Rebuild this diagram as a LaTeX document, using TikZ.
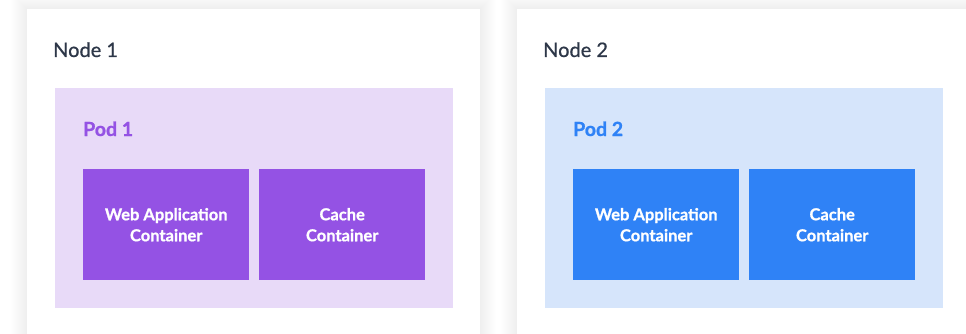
\documentclass[tikz,border=0pt]{standalone}
\usepackage{fontspec}
\setmainfont{Lato}[BoldFeatures={FakeBold=0.9}]
\newfontfamily\mediumfont{Lato}[FakeBold=0.7]

\definecolor{nodetext}{HTML}{2D3748}
\definecolor{podAbg}{HTML}{E8DAF8}
\definecolor{podAfg}{HTML}{9452E4}
\definecolor{podBbg}{HTML}{D6E5FB}
\definecolor{podBfg}{HTML}{2F82F6}

\tikzset{
  card/.style={fill=white, draw=none, rectangle, inner sep=0pt},
  podbox/.style={draw=none, rectangle, inner sep=0pt},
  ctrbox/.style={draw=none, rectangle, inner sep=0pt, text=white,
    align=center, font=\bfseries\fontsize{16.5}{21}\selectfont},
  nodelabel/.style={anchor=base west, inner sep=0pt, text=nodetext,
    font=\mediumfont\fontsize{20}{24}\selectfont},
  podlabel/.style={anchor=base west, inner sep=0pt,
    font=\bfseries\fontsize{19.5}{23}\selectfont},
}

% soft shadow round a card, built from stacked translucent frames
\newcommand\cardshadow[4]{%
  \foreach \s in {1,...,16}{
    \fill[black, opacity=0.0055] ({#1-\s},{#2-\s}) rectangle ({#3+\s},{#4+\s});
  }%
}

\begin{document}
\begin{tikzpicture}[x=1pt, y=-1pt]
  \clip (0,0) rectangle (966,334);
  \fill[white] (0,0) rectangle (966,334);

  % worker machines
  \cardshadow{27}{9}{480}{360}
  \cardshadow{517}{9}{990}{360}
  \node[card, minimum width=453pt, minimum height=351pt, anchor=north west]
    (node1) at (27,9) {};
  \node[card, minimum width=473pt, minimum height=351pt, anchor=north west]
    (node2) at (517,9) {};
  \node[nodelabel] (node1label) at (53,57) {Node 1};
  \node[nodelabel] (node2label) at (543,57) {Node 2};

  % pods
  \node[podbox, fill=podAbg, minimum width=398pt, minimum height=220pt,
    anchor=north west] (pod1) at (55,88) {};
  \node[podbox, fill=podBbg, minimum width=398pt, minimum height=220pt,
    anchor=north west] (pod2) at (545,88) {};
  \node[podlabel, text=podAfg] (pod1label) at (83,136) {Pod 1};
  \node[podlabel, text=podBfg] (pod2label) at (573,136) {Pod 2};

  % containers
  \node[ctrbox, fill=podAfg, minimum width=166pt, minimum height=111pt,
    anchor=north west] (web1) at (83,169) {Web Application\\Container};
  \node[ctrbox, fill=podAfg, minimum width=166pt, minimum height=111pt,
    anchor=north west] (cache1) at (259,169) {Cache\\Container};
  \node[ctrbox, fill=podBfg, minimum width=166pt, minimum height=111pt,
    anchor=north west] (web2) at (573,169) {Web Application\\Container};
  \node[ctrbox, fill=podBfg, minimum width=166pt, minimum height=111pt,
    anchor=north west] (cache2) at (749,169) {Cache\\Container};
\end{tikzpicture}
\end{document}
